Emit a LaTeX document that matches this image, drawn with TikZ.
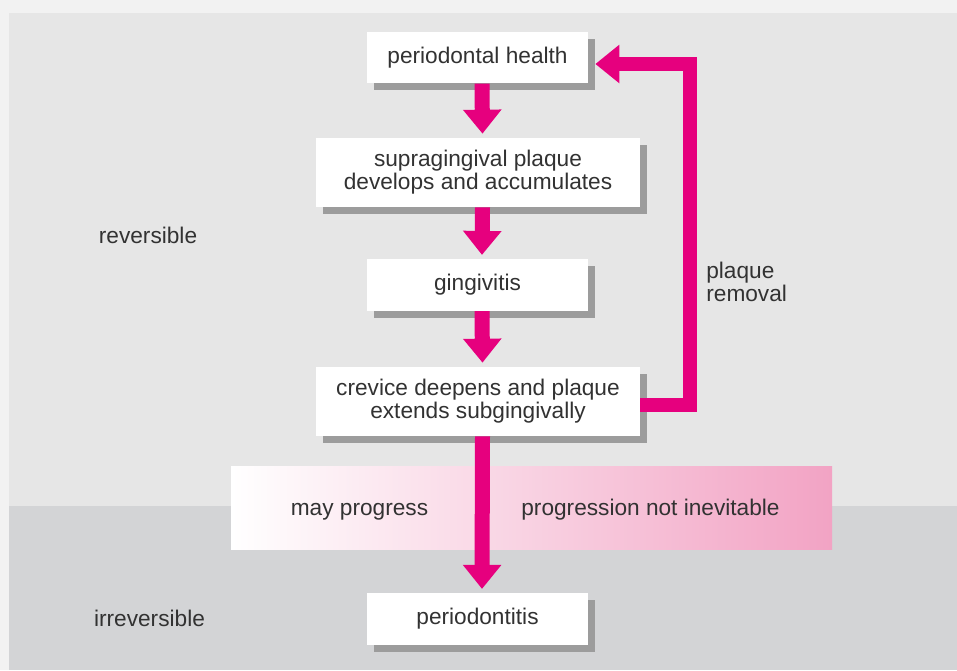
\documentclass[tikz,border=0pt]{standalone}
\usepackage{fontspec}
\setmainfont{Liberation Sans}
\usetikzlibrary{arrows.meta,shadows}

\definecolor{flowpink}{RGB}{230,0,126}
\definecolor{bandpink}{RGB}{242,163,196}
\definecolor{outergray}{RGB}{242,242,242}
\definecolor{uppergray}{RGB}{230,230,230}
\definecolor{lowergray}{RGB}{211,212,214}
\definecolor{shadowgray}{RGB}{156,156,156}
\definecolor{txtgray}{RGB}{50,50,50}

\tikzset{
	stage/.style={fill=white, text=txtgray, align=center, inner sep=0pt,
		general shadow={fill=shadowgray, shadow xshift=0.14cm, shadow yshift=-0.14cm}},
	narrowbox/.style={minimum width=4.42cm, minimum height=1.03cm},
	widebox/.style={minimum width=6.48cm, minimum height=1.38cm},
	flow/.style={draw=flowpink, line width=0.3cm, -{Triangle[width=0.74cm,length=0.48cm]}},
	lbl/.style={text=txtgray, align=left, inner sep=0pt},
	bandlbl/.style={lbl, text height=1.6ex, text depth=0.4ex},
}

\begin{document}
\begin{tikzpicture}[x=0.02cm, y=-0.02cm, font=\fontsize{12.9}{13.1}\selectfont]
	\useasboundingbox (0,0) rectangle (957,670);
	
	%background
	\fill[outergray] (0,0) rectangle (957,670);
	\fill[uppergray] (9,13) rectangle (957,506);
	\fill[lowergray] (9,506) rectangle (957,670);
	
	%band
	\shade[left color=white, right color=bandpink] (231,466) rectangle (832,549);
	\node[bandlbl] (mayprog) at (359.5,510) {may progress};
	\node[bandlbl] (notinev) at (650.5,510) {progression not inevitable};
	
	%stages
	\node[stage, narrowbox] (health) at (477.5,57.5) {periodontal health};
	\node[stage, widebox] (supra) at (478,172.5) {supragingival plaque\\develops and accumulates};
	\node[stage, narrowbox] (ging) at (477.5,285) {gingivitis};
	\node[stage, widebox] (crevice) at (478,401.5) {crevice deepens and plaque\\extends subgingivally};
	\node[stage, narrowbox] (perio) at (477.5,619) {periodontitis};
	
	\foreach \a/\b in {health/supra, supra/ging, ging/crevice, crevice/perio}
	\draw[flow] ([xshift=0.09cm]\a.south) -- ([xshift=0.09cm,yshift=0.08cm]\b.north);
	
	%plaque removal
	\coordinate (loop) at (690,250);
	\draw[flow, line width=0.28cm] ([yshift=-0.07cm]crevice.east) -| (loop) |- ([xshift=0.14cm,yshift=-0.13cm]health.east);
	\node[lbl, anchor=west] (removal) at (706,282) {plaque\\removal};
	
	%sides
	\node[lbl] (rev) at (148,235) {reversible};
	\node[lbl] (irrev) at (149.5,618) {irreversible};
	
\end{tikzpicture}
\end{document}
